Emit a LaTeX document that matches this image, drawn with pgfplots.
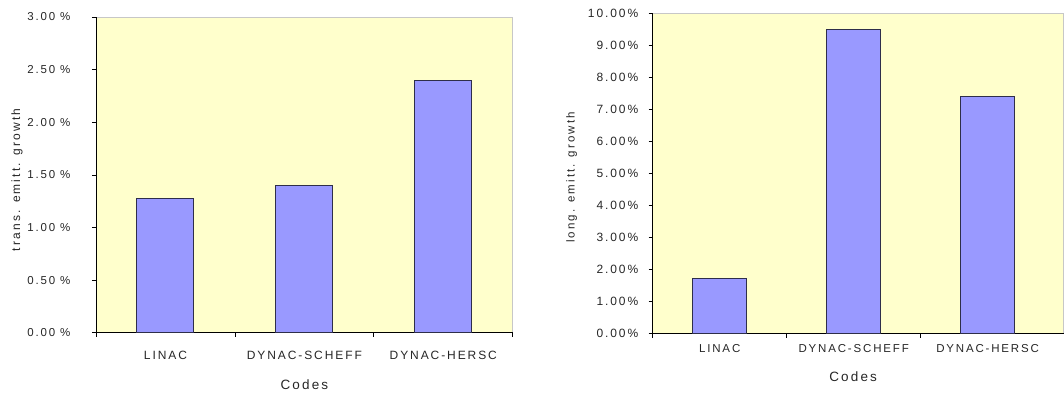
\documentclass[border=0pt]{standalone}
\usepackage{pgfplots}
\pgfplotsset{compat=1.18}
\usepackage{fontspec}
\setmainfont{Liberation Sans}[LetterSpace=16]
\newfontfamily\ylfont{Liberation Sans}[LetterSpace=18]
\definecolor{bg}{HTML}{FFFFCC}
\definecolor{barfill}{HTML}{9999FF}
\definecolor{barline}{HTML}{2E2E4A}
\pgfplotsset{
  mystyle/.style={
    scale only axis,
    anchor=south west,
    axis lines=left,
    axis line style={-, black, line width=0.9pt},
    axis background/.style={fill=bg, draw=black!22, line width=0.8pt},
    tick align=outside,
    major tick length=4pt,
    minor tick length=4pt,
    major x tick style={draw=none},
    minor x tick style={black, line width=0.8pt},
    y tick style={black, line width=0.8pt},
    xtick={0,1,2},
    xticklabels={LINAC, DYNAC-SCHEFF, DYNAC-HERSC},
    xmin=-0.5,
    ymin=0,
    tick label style={font=\fontsize{11.5}{12}\selectfont, text=black!85},
    every axis x label/.style={at={(rel axis cs:0.5,0)}, anchor=center,
      font=\fontsize{13.5}{14}\selectfont, text=black!85},
    xlabel={Codes},
  }
}
\begin{document}
\begin{tikzpicture}
\path (0pt,0pt) rectangle (1064pt,396pt);
\begin{axis}[mystyle,
  at={(96pt,63pt)}, width=417pt, height=316pt,
  xmax=2.5, ymax=3,
  minor xtick={-0.5,0.5,1.5,2.5},
  ytick={0,0.5,1,1.5,2,2.5,3},
  yticklabels={0.00 \%,0.50 \%,1.00 \%,1.50 \%,2.00 \%,2.50 \%,3.00 \%},
  yticklabel style={xshift=-18pt},
  xticklabel style={yshift=-11pt, font=\fontsize{12}{13}\selectfont},
  ylabel={trans. emitt. growth},
  every axis y label/.style={at={([xshift=-79pt, yshift=-5pt]rel axis cs:0,0.5)}, anchor=center, rotate=90,
    font=\ylfont\fontsize{12}{13}\selectfont, text=black!85},
  x label style={yshift=-52pt},
]
\addplot[ybar, bar width=57pt, fill=barfill, draw=barline, line width=1pt]
  coordinates {(0,1.28) (1,1.395) (2,2.40)};
\end{axis}
\begin{axis}[mystyle,
  at={(653pt,62pt)}, width=411pt, height=321pt,
  xmax=2.567, ymax=10,
  minor xtick={-0.5,0.5,1.5},
  ytick={0,1,2,3,4,5,6,7,8,9,10},
  yticklabels={0.00\%,1.00\%,2.00\%,3.00\%,4.00\%,5.00\%,6.00\%,7.00\%,8.00\%,9.00\%,10.00\%},
  yticklabel style={xshift=-7pt, font=\fontsize{12}{13}\selectfont},
  xticklabel style={yshift=-3pt},
  ylabel={long. emitt. growth},
  every axis y label/.style={at={([xshift=-81pt, yshift=-4pt]rel axis cs:0,0.5)}, anchor=center, rotate=90,
    font=\ylfont\fontsize{11.5}{13}\selectfont, text=black!85},
  x label style={xshift=-5pt, yshift=-43pt},
]
\addplot[ybar, bar width=54pt, fill=barfill, draw=barline, line width=1pt]
  coordinates {(0,1.74) (1,9.47) (2,7.41)};
\end{axis}
\end{tikzpicture}
\end{document}
